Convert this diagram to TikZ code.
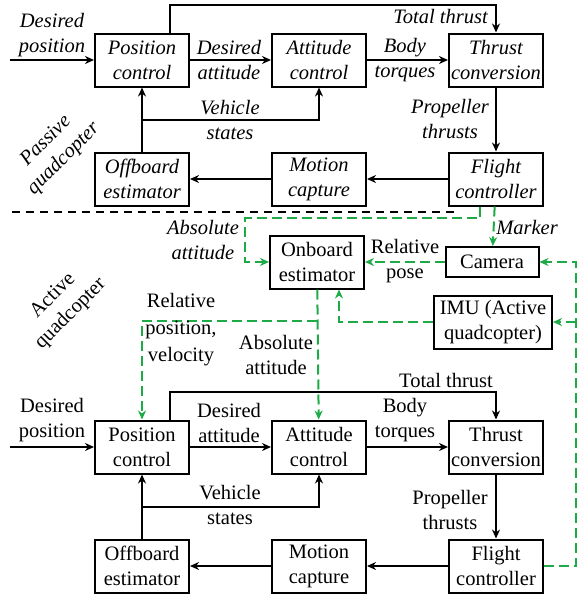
\documentclass[tikz,border=0pt]{standalone}
\usepackage{fontspec}
\setmainfont{Liberation Serif}
\usetikzlibrary{arrows.meta, positioning, calc}
\definecolor{siggreen}{RGB}{30,170,70}

\begin{document}
\begin{tikzpicture}[
    x=1pt, y=-1pt,
    node distance=64pt and 81pt,
    font=\fontsize{20.5}{25}\selectfont,
    box/.style = {rectangle, draw=black, line width=2pt, minimum width=94pt, minimum height=53pt, inner xsep=1pt, inner ysep=2pt, align=center},
    lbl/.style = {align=center, inner sep=1pt},
    line/.style = {draw, line width=2pt, -{Stealth[length=9pt,width=8pt]}},
    sig/.style = {draw=siggreen, line width=2pt, dash pattern=on 10pt off 5pt, -{Stealth[length=9pt,width=8pt]}},
]
\useasboundingbox (0,0) rectangle (578,600);

% Passive quadcopter
\begin{scope}[font=\fontsize{20.5}{25}\selectfont\itshape]
\node [box] at (142,60) (pos) {Position\\control};
\node [box, right=of pos] (att) {Attitude\\control};
\node [box, right=of att] (thr) {Thrust\\conversion};
\node [box, below=of pos] (offb) {Offboard\\estimator};
\node [box, below=of att] (mocap) {Motion\\capture};
\node [box, below=of thr] (flc) {Flight\\controller};
\coordinate (dpin) at (10,60);
\coordinate (vs) at ($(offb.north)!0.5!(pos.south)$);

\path [line] (dpin) -- (pos);
\path [line] (pos) -- (att);
\path [line] (att) -- (thr);
\path [line] ([xshift=28pt]pos.north) -- ++(0,-28) -| (thr);
\path [line] (thr) -- (flc);
\path [line] (flc) -- (mocap);
\path [line] (mocap) -- (offb);
\path [line] (offb) -- (pos);
\path [line] (vs) -| (att);

\node [lbl] at (52,35) {Desired\\position};
\node [lbl] at (229,60) {Desired\\attitude};
\node [lbl] at (405,60) {Body\\torques};
\node [lbl, anchor=east] at (489,17) {Total thrust};
\node [lbl] at (450,119) {Propeller\\thrusts};
\node [lbl] at (230,120) {Vehicle\\states};
\node [lbl, rotate=45] at (55,150) {Passive\\quadcopter};
\end{scope}

% Separator
\draw [line width=1.2pt, dash pattern=on 8pt off 6pt] (12,212) -- (457,212);

% Active quadcopter
\node [box] at (142,447) (pos2) {Position\\control};
\node [box, right=of pos2] (att2) {Attitude\\control};
\node [box, right=of att2] (thr2) {Thrust\\conversion};
\node [box, below=of pos2] (offb2) {Offboard\\estimator};
\node [box, below=of att2] (mocap2) {Motion\\capture};
\node [box, below=of thr2] (flc2) {Flight\\controller};
\coordinate (dpin2) at (10,447);
\coordinate (vs2) at ($(offb2.north)!0.5!(pos2.south)$);

\path [line] (dpin2) -- (pos2);
\path [line] (pos2) -- (att2);
\path [line] (att2) -- (thr2);
\path [line] ([xshift=28pt]pos2.north) -- ++(0,-28) -| (thr2);
\path [line] (thr2) -- (flc2);
\path [line] (flc2) -- (mocap2);
\path [line] (mocap2) -- (offb2);
\path [line] (offb2) -- (pos2);
\path [line] (vs2) -| (att2);

\node [lbl] at (52,420) {Desired\\position};
\node [lbl] at (229,423) {Desired\\attitude};
\node [lbl] at (405,420) {Body\\torques};
\node [lbl, anchor=east] at (494,380) {Total thrust};
\node [lbl] at (450,510) {Propeller\\thrusts};
\node [lbl] at (230,505) {Vehicle\\states};
\node [lbl, rotate=45] at (62,305) {Active\\quadcopter};

% Onboard sensing
\node [box] at (317,262) (onb) {Onboard\\estimator};
\node [box, minimum width=93pt, minimum height=30pt] at (492,262) (cam) {Camera};
\node [box, minimum width=118pt] at (493,322) (imu) {IMU (Active\\quadcopter)};
\coordinate (aa) at (245,218);
\coordinate (br) at ($(onb.south)+(0,31)$);
\coordinate (rt) at (576,262);

\path [sig] ([xshift=-16pt]flc.south) |- (aa) |- (onb);
\path [sig] (flc) -- (cam);
\path [sig] (cam) -- (onb);
\path [sig] (imu) -| ([xshift=22pt]onb.south);
\path [sig] (onb) -- (att2);
\path [sig] (br) -| (pos2);
\path [sig] (flc2) -| (rt) -- (cam);
\path [sig] (rt |- imu) -- (imu);

\node [lbl, font=\fontsize{20.5}{25}\selectfont\itshape] at (203,240) {Absolute\\attitude};
\node [lbl, font=\fontsize{20.5}{25}\selectfont\itshape] at (527,227) {Marker};
\node [lbl] at (405,261) {Relative\\pose};
\node [lbl, font=\fontsize{20.5}{27}\selectfont] at (181,330) {Relative\\position,\\velocity};
\node [lbl] at (276,355) {Absolute\\attitude};

\end{tikzpicture}
\end{document}
